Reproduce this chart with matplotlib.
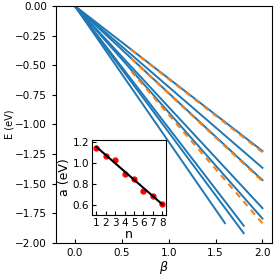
import matplotlib
matplotlib.use("Agg")
import matplotlib.pyplot as plt
import numpy as np

# inset data: slope a for each n
n_vals = [1, 2, 3, 4, 5, 6, 7, 8]
a_vals = [1.145, 1.065, 1.03, 0.897, 0.853, 0.735, 0.683, 0.612]
# end of each blue line in beta
beta_end = [1.6, 1.8, 1.8, 2.0, 2.0, 2.0, 2.0, 2.0]
# dashed fit lines (slope, start, end)
fit_slopes = [0.617, 0.74, 0.917]
fit_start = 0.6
fit_end = 2.0
# straight fit in inset
lin_n = [1, 8]
lin_a = [1.155, 0.607]

fig = plt.figure(figsize=(2.8, 2.8), dpi=100)
ax = fig.add_axes([0.2, 0.132, 0.771, 0.847])

for a, b1 in zip(a_vals, beta_end):
    b = np.array([0.0, b1])
    ax.plot(b, -a * b, color="tab:blue", lw=1.4)

for s in fit_slopes:
    b = np.array([fit_start, fit_end])
    ax.plot(b, -s * b, color="tab:orange", lw=1.5, ls=(0, (3, 2.5)))

ax.set_xlim(-0.2, 2.1)
ax.set_ylim(-2.0, 0.0)
ax.set_xticks([0.0, 0.5, 1.0, 1.5, 2.0])
ax.set_yticks([0.0, -0.25, -0.5, -0.75, -1.0, -1.25, -1.5, -1.75, -2.0])
ax.tick_params(axis="x", direction="in", labelsize=7.5, length=3)
ax.tick_params(axis="y", direction="out", labelsize=7.5, length=3)
ax.set_xlabel(r"$\beta$", fontsize=9, labelpad=1)
ax.set_ylabel("E (eV)", fontsize=7, labelpad=0)

axin = fig.add_axes([0.329, 0.232, 0.264, 0.268])
axin.plot(n_vals, a_vals, "o", color="red", ms=3.5)
axin.plot(lin_n, lin_a, color="black", lw=1.5)
axin.set_xlim(0.55, 8.4)
axin.set_ylim(0.505, 1.22)
axin.set_xticks(n_vals)
axin.set_yticks([0.6, 0.8, 1.0, 1.2])
axin.tick_params(direction="in", labelsize=7.5, length=3, pad=2)
axin.set_xlabel("n", fontsize=9, labelpad=0)
axin.set_ylabel("a (eV)", fontsize=9, labelpad=1)

fig.savefig("out.png", dpi=100)
